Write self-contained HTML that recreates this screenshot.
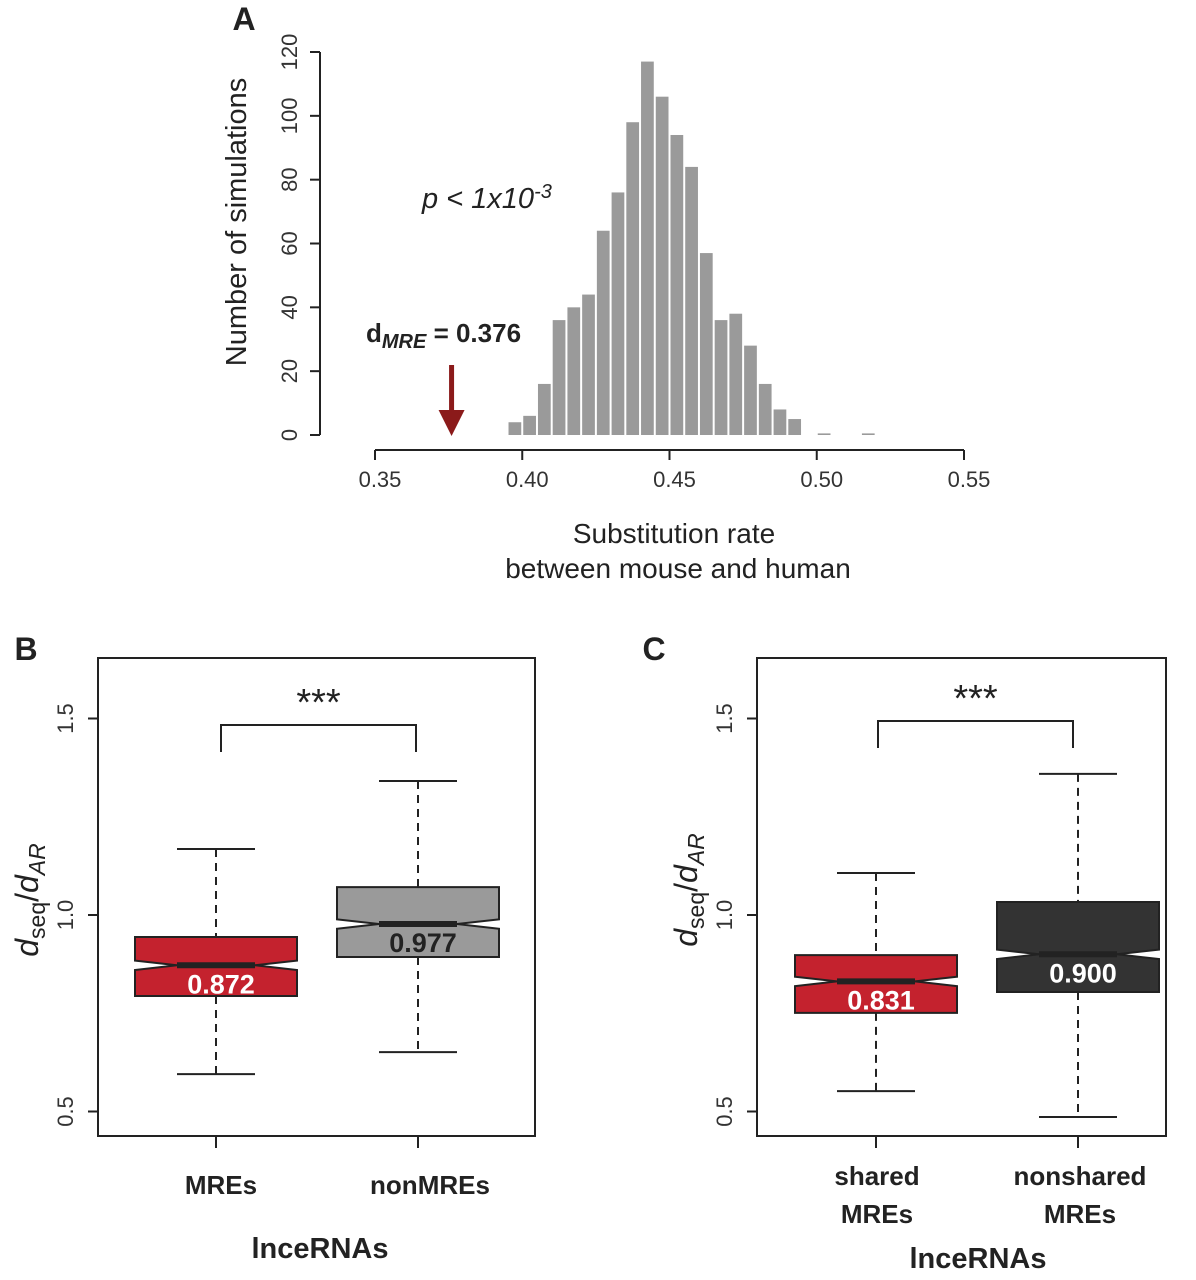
<!DOCTYPE html>
<html><head><meta charset="utf-8"><style>
html,body{margin:0;padding:0;background:#fff;}
svg{display:block;font-family:"Liberation Sans",Arial,sans-serif;}
</style></head><body>
<svg id="fig" width="1196" height="1280" viewBox="0 0 1196 1280">
<g id="panelA"></g>
<g id="panelB"></g>
<g id="panelC"></g>
</svg>
<script>
// Panel A data
const binStarts = [0.395,0.400,0.405,0.410,0.415,0.420,0.425,0.430,0.435,0.440,0.445,0.450,0.455,0.460,0.465,0.470,0.475,0.480,0.485,0.490,0.495,0.500,0.505,0.510,0.515];
const binCounts = [4,6,16,36,40,44,64,76,98,117,106,94,84,57,36,38,28,16,8,5,0,0.5,0,0,0.5];
const histYTicks = [0,20,40,60,80,100,120];
const histXTicks = [0.35,0.40,0.45,0.50,0.55];
const histXTickLabels = ["0.35","0.40","0.45","0.50","0.55"];
const dMRE = 0.376;
// Panel B data
const bCategories = ["MREs","nonMREs"];
const bMedians = [0.872,0.977];
const bQ1 = [0.794,0.893];
const bQ3 = [0.944,1.071];
const bWhiskLo = [0.595,0.651];
const bWhiskHi = [1.168,1.341];
// Panel C data
const cCategories = [["shared","MREs"],["nonshared","MREs"]];
const cMedians = [0.831,0.900];
const cQ1 = [0.751,0.804];
const cQ3 = [0.898,1.033];
const cWhiskLo = [0.552,0.486];
const cWhiskHi = [1.107,1.359];
const boxYTicks = [0.5,1.0,1.5];
const boxYTickLabels = ["0.5","1.0","1.5"];

const NS="http://www.w3.org/2000/svg";
function mk(parent,tag,attrs,text){const e=document.createElementNS(NS,tag);for(const k in attrs)e.setAttribute(k,attrs[k]);if(text!==undefined)e.textContent=text;parent.appendChild(e);return e;}

// ---------- Panel A ----------
const A=document.getElementById('panelA');
const ax=v=>375+(v-0.35)/0.2*589;
const ay=v=>435-v*(383/120);
let t=mk(A,'text',{x:244,y:30,'font-size':32,'font-weight':'bold','text-anchor':'middle',fill:'#222'},'A');


binStarts.forEach((b,i)=>{
  const c=binCounts[i]; if(c<=0)return;
  const x0=ax(b)+1,x1=ax(b+0.005)-1;
  const r=mk(A,'rect',{x:x0,y:ay(c),width:x1-x0,height:ay(0)-ay(c),fill:'#9a9a9a'});
  
  
});
let yl=mk(A,'line',{x1:320,y1:ay(0),x2:320,y2:ay(120),stroke:'#222','stroke-width':2});


histYTicks.forEach(v=>{
  mk(A,'line',{x1:310,y1:ay(v),x2:320,y2:ay(v),stroke:'#222','stroke-width':2});
  const tl=mk(A,'text',{x:0,y:0,'font-size':22,'text-anchor':'middle',fill:'#333',transform:`translate(297,${ay(v)}) rotate(-90)`},String(v));
  
  
});
let yt=mk(A,'text',{x:0,y:0,'font-size':29,'text-anchor':'middle',fill:'#222',transform:'translate(246,222) rotate(-90)'},'Number of simulations');


let xl=mk(A,'line',{x1:ax(0.35),y1:450,x2:ax(0.55),y2:450,stroke:'#222','stroke-width':2});


histXTicks.forEach((v,i)=>{
  mk(A,'line',{x1:ax(v),y1:450,x2:ax(v),y2:460,stroke:'#222','stroke-width':2});
  const tl=mk(A,'text',{x:ax(v)+5,y:487,'font-size':22,'text-anchor':'middle',fill:'#333'},histXTickLabels[i]);
  
  
});
let xt1=mk(A,'text',{x:674,y:543,'font-size':28,'text-anchor':'middle',fill:'#222'},'Substitution rate');


let xt2=mk(A,'text',{x:678,y:578,'font-size':28,'text-anchor':'middle',fill:'#222'},'between mouse and human');


let pv=mk(A,'text',{x:422,y:208,'font-size':29,'font-style':'italic',fill:'#222'},'p < 1x10');


mk(pv,'tspan',{dy:-10,'font-size':20},'-3');
let dm=mk(A,'text',{x:366,y:342,'font-size':26,'font-weight':'bold',fill:'#222'},'d');


mk(dm,'tspan',{dy:6,'font-size':20,'font-style':'italic'},'MRE');
mk(dm,'tspan',{dy:-6},' = 0.376');
const arx=ax(dMRE);
let ar=mk(A,'g',{});


mk(ar,'line',{x1:arx,y1:365,x2:arx,y2:414,stroke:'#8b1a1a','stroke-width':5});
mk(ar,'polygon',{points:`${arx-13},410 ${arx+13},410 ${arx},436`,fill:'#8b1a1a'});

// ---------- Box panels ----------
function boxPanel(G,cfg){
  const by=v=>915-(v-1)*393;
  let lb=mk(G,'text',{x:cfg.labelX,y:660,'font-size':32,'font-weight':'bold','text-anchor':'middle',fill:'#222'},cfg.label);
  
  
  let fr=mk(G,'rect',{x:cfg.left,y:658,width:cfg.right-cfg.left,height:478,fill:'none',stroke:'#222','stroke-width':2});
  
  
  boxYTicks.forEach((v,i)=>{
    mk(G,'line',{x1:cfg.left-10,y1:by(v),x2:cfg.left,y2:by(v),stroke:'#222','stroke-width':2});
    const tl=mk(G,'text',{x:0,y:0,'font-size':22,'text-anchor':'middle',fill:'#333',transform:`translate(${cfg.left-25},${by(v)}) rotate(-90)`},boxYTickLabels[i]);
    
    
  });
  let yt=mk(G,'text',{x:0,y:0,'font-size':32,'text-anchor':'middle',fill:'#222',transform:`translate(${cfg.left-60},${cfg.yTitleY}) rotate(-90)`});
  
  
  mk(yt,'tspan',{'font-style':'italic'},'d');
  mk(yt,'tspan',{'font-size':23,dy:7},'seq');
  mk(yt,'tspan',{dy:-7},'/');
  mk(yt,'tspan',{'font-style':'italic'},'d');
  mk(yt,'tspan',{'font-size':23,dy:7,'font-style':'italic'},'AR');
  cfg.centers.forEach((cx,i)=>{
    const g=mk(G,'g',{});
    
    
    const hw=cfg.halfW[i], cw=39, nh=0.012*393;
    const m=by(cfg.med[i]), q1=by(cfg.q1[i]), q3=by(cfg.q3[i]);
    mk(g,'line',{x1:cx,y1:by(cfg.wh[i]),x2:cx,y2:q3,stroke:'#222','stroke-width':2,'stroke-dasharray':'8,6'});
    mk(g,'line',{x1:cx,y1:q1,x2:cx,y2:by(cfg.wl[i]),stroke:'#222','stroke-width':2,'stroke-dasharray':'8,6'});
    mk(g,'line',{x1:cx-cw,y1:by(cfg.wh[i]),x2:cx+cw,y2:by(cfg.wh[i]),stroke:'#222','stroke-width':2});
    mk(g,'line',{x1:cx-cw,y1:by(cfg.wl[i]),x2:cx+cw,y2:by(cfg.wl[i]),stroke:'#222','stroke-width':2});
    const L=cx-hw,R=cx+hw;
    mk(g,'polygon',{points:`${L},${q3} ${R},${q3} ${R},${m-nh} ${cx+cw},${m} ${R},${m+nh} ${R},${q1} ${L},${q1} ${L},${m+nh} ${cx-cw},${m} ${L},${m-nh}`,fill:cfg.fill[i],stroke:'#222','stroke-width':2});
    mk(g,'line',{x1:cx-cw,y1:m,x2:cx+cw,y2:m,stroke:'#222','stroke-width':6});
    const vl=mk(G,'text',{x:cx+5,y:m+28,'font-size':27,'font-weight':'bold','text-anchor':'middle',fill:cfg.txt[i]},cfg.med[i].toFixed(3));
    
    
    mk(G,'line',{x1:cx,y1:1136,x2:cx,y2:1148,stroke:'#222','stroke-width':2});
    cfg.cats[i].forEach((s,k)=>{
      const cl=mk(G,'text',{x:cx+cfg.catDx[i],y:cfg.catY+k*38,'font-size':26,'font-weight':'bold','text-anchor':'middle',fill:'#222'},s);
      
      
    });
  });
  const b=cfg.bracket;
  let br=mk(G,'polyline',{points:`${b[0]},${b[3]} ${b[0]},${b[2]} ${b[1]},${b[2]} ${b[1]},${b[3]}`,fill:'none',stroke:'#222','stroke-width':2});
  
  
  let st=mk(G,'text',{x:(b[0]+b[1])/2,y:b[2]-10,'font-size':38,'text-anchor':'middle',fill:'#222'},'***');
  
  
  let xt=mk(G,'text',{x:cfg.xTitleX,y:cfg.xTitleY,'font-size':29,'font-weight':'bold','text-anchor':'middle',fill:'#222'},'lnceRNAs');
  
  
}
boxPanel(document.getElementById('panelB'),{label:'B',labelX:26,left:98,right:535,yTitleY:900,
  centers:[216,418],halfW:[81,81],med:bMedians,q1:bQ1,q3:bQ3,wl:bWhiskLo,wh:bWhiskHi,
  fill:['#c4222e','#9a9a9a'],txt:['#fff','#222'],cats:bCategories.map(c=>[c]),catDx:[5,12],catY:1194,
  bracket:[221,416,725,752],xTitleX:320,xTitleY:1258});
boxPanel(document.getElementById('panelC'),{label:'C',labelX:654,left:757,right:1166,yTitleY:890,
  centers:[876,1078],halfW:[81,81],med:cMedians,q1:cQ1,q3:cQ3,wl:cWhiskLo,wh:cWhiskHi,
  fill:['#c4222e','#333333'],txt:['#fff','#fff'],cats:cCategories,catDx:[1,2],catY:1185,
  bracket:[878,1073,721,748],xTitleX:978,xTitleY:1268});
</script>
</body></html>
